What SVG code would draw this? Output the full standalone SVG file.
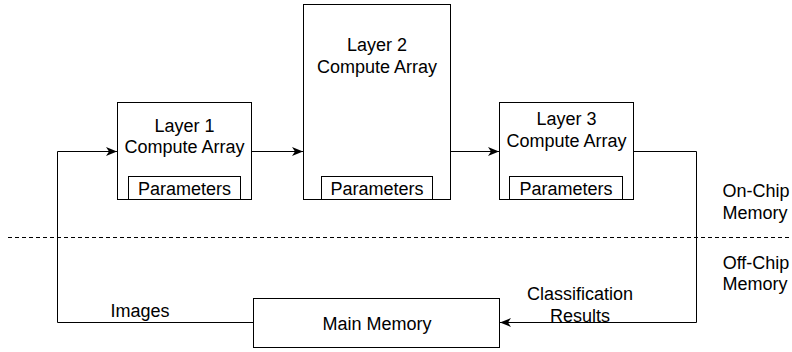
<svg xmlns="http://www.w3.org/2000/svg" width="792" height="352" viewBox="0 0 792 352">
  <style>
    .box { fill: #ffffff; stroke: #000000; stroke-width: 1; }
    .lbl { font-family: "Liberation Sans", Arial, Helvetica, sans-serif; font-size: 18px; fill: #000000; text-anchor: middle; }
    .conn { fill: none; stroke: #000000; stroke-width: 1; }
    .dash { fill: none; stroke: #000000; stroke-width: 1; stroke-dasharray: 4 3; }
  </style>
  <defs>
    <marker id="arrow" viewBox="0 0 11 9" refX="11" refY="4.5" markerWidth="11" markerHeight="9" markerUnits="userSpaceOnUse" orient="auto">
      <path d="M0,0 L11,4.5 L0,9 L3,4.5 Z" fill="#000000" stroke="none"/>
    </marker>
  </defs>

  <rect width="792" height="352" fill="#ffffff"/>

  <g id="connectors">
    <path class="conn" d="M253.5,322.5 L57.5,322.5 L57.5,151.5 L117,151.5" marker-end="url(#arrow)"/>
    <path class="conn" d="M252,151.5 L303,151.5" marker-end="url(#arrow)"/>
    <path class="conn" d="M451,151.5 L499,151.5" marker-end="url(#arrow)"/>
    <path class="conn" d="M634,151.5 L696.5,151.5 L696.5,322.5 L500,322.5" marker-end="url(#arrow)"/>
  </g>

  <g id="boundary">
    <line class="dash" x1="8" y1="237.5" x2="792" y2="237.5"/>
  </g>

  <g id="layer1">
    <rect class="box" x="117.5" y="102.5" width="134" height="97"/>
    <text class="lbl" x="184.5" y="132">Layer 1</text>
    <text class="lbl" x="184.5" y="153">Compute Array</text>
    <rect class="box" x="128.5" y="176.5" width="112" height="23"/>
    <text class="lbl" x="184.5" y="194.5">Parameters</text>
  </g>

  <g id="layer2">
    <rect class="box" x="303.5" y="4.5" width="147" height="195"/>
    <text class="lbl" x="377" y="51">Layer 2</text>
    <text class="lbl" x="377" y="73">Compute Array</text>
    <rect class="box" x="321.5" y="176.5" width="111" height="23"/>
    <text class="lbl" x="377" y="194.5">Parameters</text>
  </g>

  <g id="layer3">
    <rect class="box" x="499.5" y="102.5" width="134" height="97"/>
    <text class="lbl" x="566.5" y="124.5">Layer 3</text>
    <text class="lbl" x="566.5" y="146.5">Compute Array</text>
    <rect class="box" x="509.5" y="176.5" width="113" height="23"/>
    <text class="lbl" x="566" y="194.5">Parameters</text>
  </g>

  <g id="main-memory">
    <rect class="box" x="253.5" y="298.5" width="246" height="49"/>
    <text class="lbl" x="377" y="330">Main Memory</text>
  </g>

  <g id="labels">
    <text class="lbl" x="140" y="317">Images</text>
    <text class="lbl" x="580" y="300">Classification</text>
    <text class="lbl" x="580" y="321.5">Results</text>
    <text class="lbl" x="756" y="197">On-Chip</text>
    <text class="lbl" x="755" y="218.5">Memory</text>
    <text class="lbl" x="756" y="268.5">Off-Chip</text>
    <text class="lbl" x="755" y="290">Memory</text>
  </g>
</svg>
